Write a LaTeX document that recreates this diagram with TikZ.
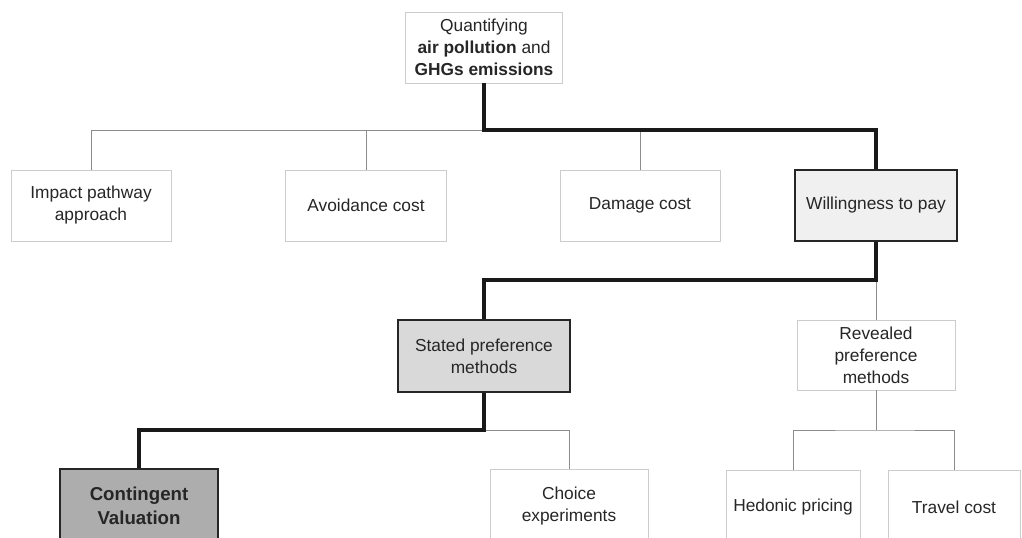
\documentclass[tikz,border=0pt]{standalone}
\usepackage{fontspec}
\setmainfont{Liberation Sans}
\begin{document}
\begin{tikzpicture}[x=0.75pt,y=-0.75pt,
  txt/.style={text=black!85, font=\fontsize{13}{16.5}\selectfont, align=center},
  plainbox/.style={txt, draw=black!20, line width=0.6pt, inner sep=0pt},
  keybox/.style={txt, draw=black!85, line width=2pt, inner sep=0pt},
  thinline/.style={draw=black!45, line width=0.7pt},
  thickline/.style={draw=black!90, line width=2.3pt, line join=miter}]
\useasboundingbox (0,0) rectangle (1022,538);
\clip (0,0) rectangle (1022,538);

% boxes
\node[plainbox, minimum width=157*0.75pt, minimum height=71*0.75pt] (top) at (484,47.5)
  {Quantifying\\\textbf{air pollution} and\\\textbf{GHGs emissions}};
\node[plainbox, minimum width=160*0.75pt, minimum height=71*0.75pt] (ipa) at (91,205.5) {Impact pathway\\approach};
\node[plainbox, minimum width=161*0.75pt, minimum height=71*0.75pt] (avc) at (366,205.5) {Avoidance cost};
\node[plainbox, minimum width=160*0.75pt, minimum height=71*0.75pt] (dmg) at (640,205.5) {Damage cost};
\node[keybox, fill=black!6, minimum width=162*0.75pt, minimum height=71*0.75pt] (wtp) at (876,205.5) {Willingness to pay};
\node[keybox, fill=black!15, minimum width=172*0.75pt, minimum height=72*0.75pt] (spm) at (484,356) {Stated preference\\methods};
\node[plainbox, minimum width=158*0.75pt, minimum height=70*0.75pt] (rpm) at (876,355) {Revealed\\preference\\methods};
\node[keybox, fill=black!32, minimum width=158*0.75pt, minimum height=74*0.75pt, font=\fontsize{14}{18}\selectfont\bfseries] (cv) at (139,506) {Contingent\\Valuation};
\node[plainbox, minimum width=158*0.75pt, minimum height=74*0.75pt] (ce) at (569,506) {Choice\\experiments};
\node[plainbox, minimum width=134*0.75pt, minimum height=74*0.75pt] (hp) at (793,507) {Hedonic pricing};
\node[plainbox, minimum width=132*0.75pt, minimum height=74*0.75pt] (tc) at (954,507) {Travel cost};

% connector levels
\coordinate (busA) at (0,130);
\coordinate (busB) at (0,280);
\coordinate (busC) at (0,430);

% thin branches
\draw[thinline] (ipa.north) |- (top.south |- busA);
\draw[thinline] (avc.north) -- (avc.north |- busA);
\draw[thinline] (dmg.north) -- (dmg.north |- busA);
\draw[thinline] (wtp.south |- busB) -- (rpm.north);
\draw[thinline] (spm.south |- busC) -| (ce.north);
\draw[thinline] (rpm.south) -- (rpm.south |- busC);
\draw[thinline] (hp.north) |- (rpm.south |- busC) -| (tc.north);

% highlighted path
\draw[thickline] (top.south) -- (top.south |- busA) -| (wtp.north);
\draw[thickline] (wtp.south) -- (wtp.south |- busB) -| (spm.north);
\draw[thickline] (spm.south) -- (spm.south |- busC) -| (cv.north);
\end{tikzpicture}
\end{document}
